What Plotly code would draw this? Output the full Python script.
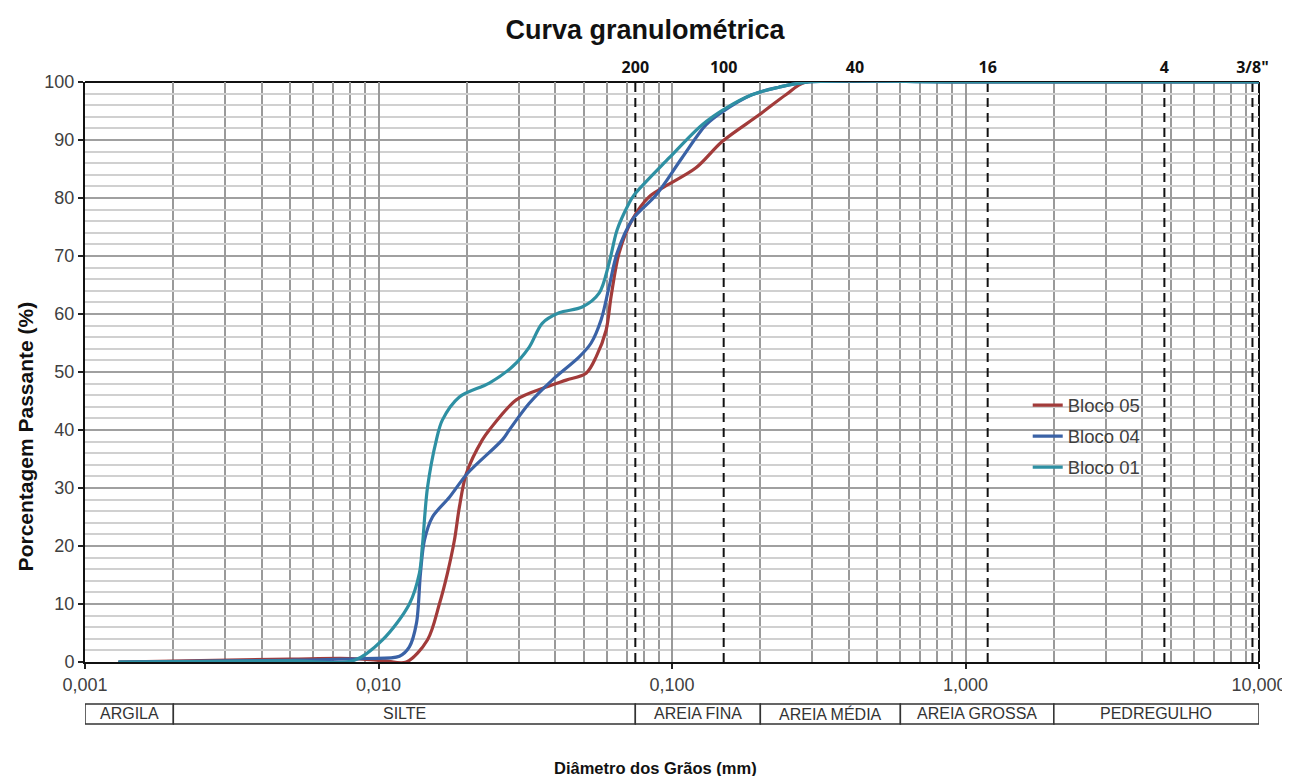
import math
import plotly.graph_objects as go

# ---------------- data ----------------
b05_d = [0.0013, 0.005, 0.008, 0.0105, 0.01245, 0.01468, 0.01612, 0.01717, 0.01814, 0.01886,
         0.01992, 0.02258, 0.02385, 0.02947, 0.03727, 0.0436, 0.05099, 0.05514, 0.05963, 0.06201,
         0.06602, 0.07309, 0.0835, 0.09247, 0.1207, 0.1479, 0.1977, 0.2443, 0.2857, 1.0, 10.0]
b05_p = [0, 0.5, 0.6, 0.2, 0, 3.8, 10, 15.3, 21, 26.7,
         32.5, 38.3, 40, 45.2, 47.4, 48.6, 49.8, 52.6, 57.2, 63,
         70.5, 76.2, 80.2, 81.7, 85.2, 89.7, 94.3, 97.8, 100, 100, 100]

b04_d = [0.0013, 0.005, 0.009, 0.01179, 0.01274, 0.01347, 0.0139, 0.01434, 0.01527, 0.01744,
         0.02008, 0.02641, 0.0279, 0.03263, 0.03906, 0.04828, 0.05303, 0.05735, 0.06105, 0.065,
         0.07309, 0.08823, 0.1081, 0.1305, 0.1479, 0.1871, 0.2312, 0.2924, 1.0, 10.0]
b04_p = [0, 0.3, 0.6, 1, 2.6, 6.7, 15.3, 21, 25, 28.4,
         32.5, 38.3, 40, 44.6, 48.6, 52.6, 55, 59, 64.7, 70.5,
         76.2, 80.5, 86.9, 92.6, 94.8, 97.8, 99.1, 100, 100, 100]

b01_d = [0.0013, 0.005, 0.00828, 0.01032, 0.01274, 0.01378, 0.01411, 0.01468, 0.01575, 0.0165,
         0.01886, 0.02385, 0.02856, 0.03263, 0.03613, 0.04126, 0.04942, 0.05645, 0.06105, 0.065,
         0.0714, 0.0742, 0.0977, 0.1265, 0.1527, 0.1871, 0.2312, 0.2924, 1.0, 10.0]
b01_p = [0, 0.2, 0.3, 3.8, 10, 15.3, 20, 30, 38.3, 41.7,
         45.7, 48.1, 50.9, 54.3, 58.4, 60.2, 61.2, 63.6, 68.8, 74.5,
         79.1, 80.5, 86.9, 92.6, 95.5, 97.8, 99.1, 100, 100, 100]

series_names = ["Bloco 05", "Bloco 04", "Bloco 01"]
series_colors = ["#A23B3A", "#3A62A6", "#2E90A3"]

sieve_mm = [0.075, 0.15, 0.42, 1.19, 4.76, 9.5]
sieve_labels = ["200", "100", "40", "16", "4", "3/8\""]
sieve_dashed = [True, True, False, True, True, True]

class_bounds = [0.001, 0.002, 0.075, 0.2, 0.6, 2.0, 10.0]
class_names = ["ARGILA", "SILTE", "AREIA FINA", "AREIA MÉDIA", "AREIA GROSSA", "PEDREGULHO"]

x_major = [0.001, 0.01, 0.1, 1, 10]
x_major_text = ["0,001", "0,010", "0,100", "1,000", "10,000"]
x_minor = [m * 10 ** e for e in range(-3, 1) for m in range(2, 10)]

# ---------------- figure ----------------
fig = go.Figure()

for s, dsh in zip(sieve_mm, sieve_dashed):
    if dsh:
        fig.add_trace(go.Scatter(x=[s, s], y=[0, 100], mode="lines",
                                 line=dict(color="#111111", width=2, dash="9px,6px"),
                                 showlegend=False, hoverinfo="skip"))

for i, (xd, yp) in enumerate([(b05_d, b05_p), (b04_d, b04_p), (b01_d, b01_p)]):
    fig.add_trace(go.Scatter(x=xd, y=yp, mode="lines", name=series_names[i],
                             line=dict(color=series_colors[i], width=3.2, shape="spline", smoothing=0.9),
                             legendgroup=series_names[i]))

fig.add_trace(go.Scatter(x=sieve_mm, y=[100] * len(sieve_mm), xaxis="x2", mode="markers",
                         marker=dict(opacity=0), showlegend=False, hoverinfo="skip"))

font_main = "Liberation Sans, Arial, sans-serif"

# page body has an 8px default margin, so the figure is sized/offset to compensate
fig.update_layout(
    width=1282, height=768,
    margin=dict(l=77, r=31, t=74, b=114, autoexpand=False),
    paper_bgcolor="white", plot_bgcolor="white",
    title=dict(text="<b>Curva granulométrica</b>", x=(645 - 8) / 1282, xanchor="center",
               y=1 - 22 / 768, yanchor="middle",
               font=dict(family=font_main, size=27, color="#111111")),
    xaxis=dict(type="log", range=[-3, 1], tickmode="array", tickvals=x_major, ticktext=x_major_text,
               ticks="outside", ticklen=5, tickcolor="#222", tickwidth=1.5,
               showline=True, linecolor="#111111", linewidth=2,
               showgrid=True, gridcolor="#9a9a9a", gridwidth=1.5,
               minor=dict(tickmode="array", tickvals=x_minor, showgrid=True,
                          gridcolor="#9a9a9a", gridwidth=1.5, ticks=""),
               tickfont=dict(family=font_main, size=18, color="#404040"),
               zeroline=False, automargin=False),
    xaxis2=dict(type="log", range=[-3, 1], overlaying="x", side="top", tickmode="array",
                tickvals=sieve_mm, ticktext=sieve_labels, ticks="outside", ticklen=2,
                tickcolor="rgba(0,0,0,0)", showgrid=False,
                showline=False, zeroline=False, automargin=False,
                tickfont=dict(family="Open Sans, sans-serif", size=16, color="#111111", weight="bold")),
    yaxis=dict(range=[0, 100], tickmode="linear", tick0=0, dtick=10,
               ticks="outside", ticklen=5, tickcolor="#222", tickwidth=1.5,
               showline=True, linecolor="#111111", linewidth=2,
               showgrid=True, gridcolor="#a0a0a0", gridwidth=1.5,
               minor=dict(dtick=2, showgrid=True, gridcolor="#d0d0d0", gridwidth=2, ticks=""),
               tickfont=dict(family=font_main, size=18, color="#404040"),
               zeroline=False, automargin=False),
    legend=dict(x=0.803, y=0.475, xanchor="left", yanchor="top", bgcolor="rgba(255,255,255,0)",
                borderwidth=0, font=dict(family=font_main, size=18.5, color="#404040"),
                tracegroupgap=4, traceorder="grouped", itemwidth=30),
    showlegend=True,
)

# axis titles as annotations
fig.add_annotation(text="<b>Porcentagem Passante (%)</b>", xref="paper", yref="paper",
                   x=-60 / 1174, y=0.389, textangle=-90, showarrow=False,
                   xanchor="center", yanchor="middle",
                   font=dict(family=font_main, size=21, color="#111111"))
fig.add_annotation(text="<b>Diâmetro dos Grãos (mm)</b>", xref="paper", yref="paper",
                   x=0.486, y=-106 / 580, showarrow=False, xanchor="center", yanchor="middle",
                   font=dict(family=font_main, size=16.5, color="#111111"))

# legend background box
fig.add_shape(type="rect", xref="paper", yref="paper", x0=0.779, x1=0.918, y0=0.305, y1=0.478,
              fillcolor="white", line=dict(width=0), layer="between")

# top / right border
fig.add_shape(type="line", xref="paper", yref="paper", x0=0, x1=1, y0=1, y1=1,
              line=dict(color="#111111", width=2), layer="below")
fig.add_shape(type="line", xref="paper", yref="paper", x0=1, x1=1, y0=0, y1=1,
              line=dict(color="#111111", width=2), layer="below")

# classification boxes
for i, name in enumerate(class_names):
    x0, x1 = class_bounds[i], class_bounds[i + 1]
    fig.add_shape(type="rect", xref="x", yref="paper", x0=x0, x1=x1, y0=-0.1069, y1=-0.0724,
                  line=dict(color="#333333", width=1.5), fillcolor="white")
    fig.add_annotation(x=(math.log10(x0) + math.log10(x1)) / 2, xref="x", yref="paper", y=-0.0896,
                       yanchor="middle", xanchor="center",
                       text=name, showarrow=False,
                       font=dict(family=font_main, size=16, color="#333333"))

fig.write_html("out.html")
